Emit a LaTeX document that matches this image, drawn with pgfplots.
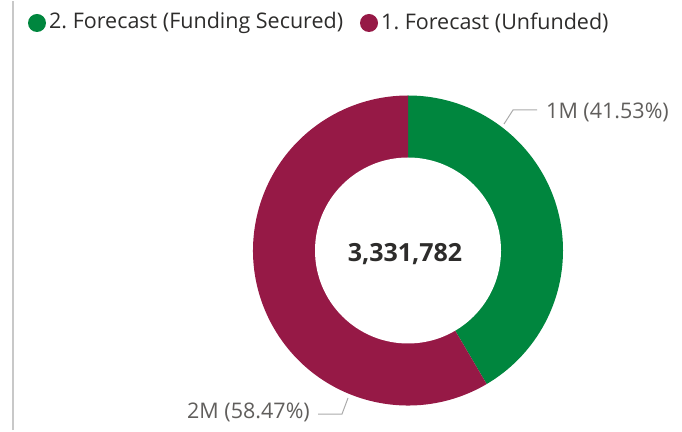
\documentclass[border=0pt]{standalone}
\usepackage{pgfplots}
\usepackage{pgfplotstable}
\pgfplotsset{compat=1.18}
\usepackage{fontspec}
\setmainfont{Open Sans}
\frenchspacing
\definecolor{cgreen}{RGB}{0,134,62}
\definecolor{cmaroon}{RGB}{150,25,70}
\definecolor{clabel}{RGB}{96,94,92}
\definecolor{ctext}{RGB}{45,44,43}
\definecolor{cline}{RGB}{170,170,170}
\definecolor{cborder}{RGB}{200,200,200}
% values in thousands
\pgfplotstableread{
cat value
funded 1383.689
unfunded 1948.093
}\datatable
\begin{document}
\begin{tikzpicture}
\pgfplotstablegetelem{0}{value}\of\datatable \let\valA\pgfplotsretval
\pgfplotstablegetelem{1}{value}\of\datatable \let\valB\pgfplotsretval
\pgfmathsetmacro{\total}{\valA+\valB}
\pgfmathsetmacro{\frac}{\valA/\total}
\pgfmathsetmacro{\angA}{90-360*\frac}
\begin{axis}[
  scale only axis, width=682pt, height=429pt,
  xmin=0, xmax=682, ymin=0, ymax=429,
  hide axis, clip=false,
]
\path (axis cs:0,0) rectangle (axis cs:682,429);
% border
\draw[cborder, line width=2pt] (axis cs:13,0) -- (axis cs:13,429);
% donut
\coordinate (C) at (axis cs:408,179.5);
\fill[cgreen] (C) -- ++(90:155pt) arc[start angle=90, end angle=\angA, radius=155pt] -- cycle;
\fill[cmaroon] (C) -- ++(\angA:155pt) arc[start angle=\angA, end angle=-270, radius=155pt] -- cycle;
\fill[white] (C) circle[radius=93pt];
\node[ctext, font=\fontsize{25}{30}\selectfont\bfseries, inner sep=0pt] at (axis cs:405,176) {3,331,782};
% leader lines
\draw[cline, line width=1pt] (axis cs:504,306) -- (axis cs:513,320) -- (axis cs:537,320);
\draw[cline, line width=1pt] (axis cs:348,32) -- (axis cs:342,16) -- (axis cs:318,16);
\node[clabel, anchor=west, inner sep=0pt, font=\fontsize{21.5}{26}\selectfont] at (axis cs:546,318) {1M (41.53\%)};
\node[clabel, anchor=east, inner sep=0pt, font=\fontsize{21.5}{26}\selectfont] at (axis cs:310,18) {2M (58.47\%)};
% legend
\fill[cgreen] (axis cs:37,407) circle[radius=9pt];
\node[ctext, anchor=west, inner sep=0pt, font=\fontsize{21.5}{26}\selectfont] at (axis cs:49,407) {2. Forecast (Funding Secured)};
\fill[cmaroon] (axis cs:369,407) circle[radius=9pt];
\node[ctext, anchor=west, inner sep=0pt, font=\fontsize{21.5}{26}\selectfont] at (axis cs:381,407) {1. Forecast (Unfunded)};
\end{axis}
\end{tikzpicture}
\end{document}
